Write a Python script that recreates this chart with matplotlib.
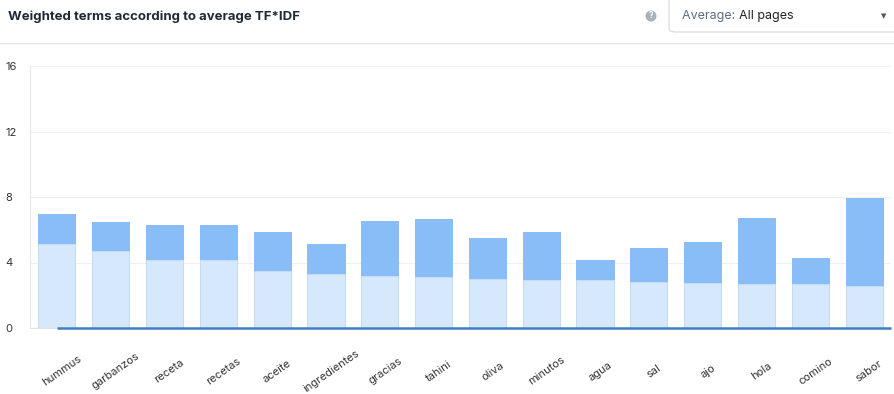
import matplotlib
matplotlib.use("Agg")
import matplotlib.pyplot as plt
from matplotlib.patches import FancyBboxPatch, Circle
from matplotlib.transforms import ScaledTranslation
import numpy as np

plt.rcParams['font.family'] = ['Inter', 'DejaVu Sans']

terms = ["hummus", "garbanzos", "receta", "recetas", "aceite", "ingredientes",
         "gracias", "tahini", "oliva", "minutos", "agua", "sal", "ajo", "hola",
         "comino", "sabor"]
upper_vals = [6.98, 6.50, 6.30, 6.30, 5.88, 5.12, 6.55, 6.66, 5.50, 5.85,
              4.17, 4.89, 5.24, 6.70, 4.29, 7.93]
lower_vals = [5.14, 4.69, 4.15, 4.15, 3.50, 3.30, 3.19, 3.10, 3.02, 2.94,
              2.93, 2.82, 2.75, 2.70, 2.70, 2.56]
line_vals = [0.0] * len(terms)
y_ticks = [0, 4, 8, 12, 16]

W, H = 894, 394
fig = plt.figure(figsize=(W / 100, H / 100), dpi=100)
fig.patch.set_facecolor("white")

ax = fig.add_axes([30 / W, 1 - 328 / H, 861 / W, 262 / H])
x = np.arange(len(terms))
ax.bar(x, upper_vals, width=0.69, color="#89bdf7", edgecolor="#80b6f2",
       linewidth=0.6, zorder=2)
ax.bar(x, lower_vals, width=0.69, color="#d6e9fc", edgecolor="#c6def6",
       linewidth=0.6, zorder=3)
ax.plot(list(x) + [len(terms) - 0.5], line_vals + [0.0], color="#3f80c2",
        linewidth=1.8, zorder=4, solid_capstyle="butt", clip_on=False)

ax.set_xlim(-0.5, len(terms) - 0.5)
ax.set_ylim(0, 16)
ax.set_yticks(y_ticks)
ax.set_yticklabels([str(v) for v in y_ticks])
ax.yaxis.grid(True, color="#f0f0f0", linewidth=0.9, zorder=0)
ax.set_axisbelow(True)
for s in ["top", "right"]:
    ax.spines[s].set_visible(False)
ax.spines["left"].set_color("#e8e8e8")
ax.spines["bottom"].set_color("#e0e0e0")
ax.tick_params(axis="y", length=0, labelsize=8, labelcolor="#333333", pad=0)
for lab in ax.get_yticklabels():
    lab.set_horizontalalignment("left")
    lab.set_transform(lab.get_transform() + ScaledTranslation(-25 / 100, 0, fig.dpi_scale_trans))

ax.set_xticks(x)
ax.set_xticklabels(terms, rotation=35, ha="center", va="center",
                   rotation_mode="anchor", fontsize=8, color="#333333")
ax.tick_params(axis="x", length=0, pad=0)
off = ScaledTranslation(5 / 100, -43 / 100, fig.dpi_scale_trans)
for lab in ax.get_xticklabels():
    lab.set_transform(lab.get_transform() + off)

# Header
fig.text(8 / W, 1 - 17 / H, "Weighted terms according to average TF*IDF",
         fontsize=9.5, fontweight="bold", color="#1f2a36", va="center", ha="left")
fig.add_artist(plt.Line2D([0, 1], [1 - 42.5 / H, 1 - 42.5 / H],
                          transform=fig.transFigure, color="#e6e6e6", linewidth=1))
box = FancyBboxPatch((669 / W, 1 - 32 / H), 240 / W, 40 / H,
                     boxstyle="round,pad=0,rounding_size=0.008",
                     transform=fig.transFigure, facecolor="white",
                     edgecolor="#dcdcdc", linewidth=0.9)
fig.add_artist(box)
t1 = fig.text(682 / W, 1 - 16 / H, "Average: ", fontsize=9, color="#5c6f82",
              va="center", ha="left")
fig.canvas.draw()
bb = t1.get_window_extent()
fig.text(bb.x1 / W, 1 - 16 / H, "All pages", fontsize=9, color="#222222",
         va="center", ha="left")
fig.text(884 / W, 1 - 16 / H, "▼", fontsize=5, color="#555555",
         va="center", ha="center", family="DejaVu Sans")
fig.add_artist(Circle((651, H - 16), 5.5, transform=None, facecolor="#a9b2bb",
                      edgecolor="none"))
fig.text(651 / W, 1 - 16 / H, "?", fontsize=6, color="white", fontweight="bold",
         va="center", ha="center")

fig.savefig("out.png", dpi=100, facecolor="white")
